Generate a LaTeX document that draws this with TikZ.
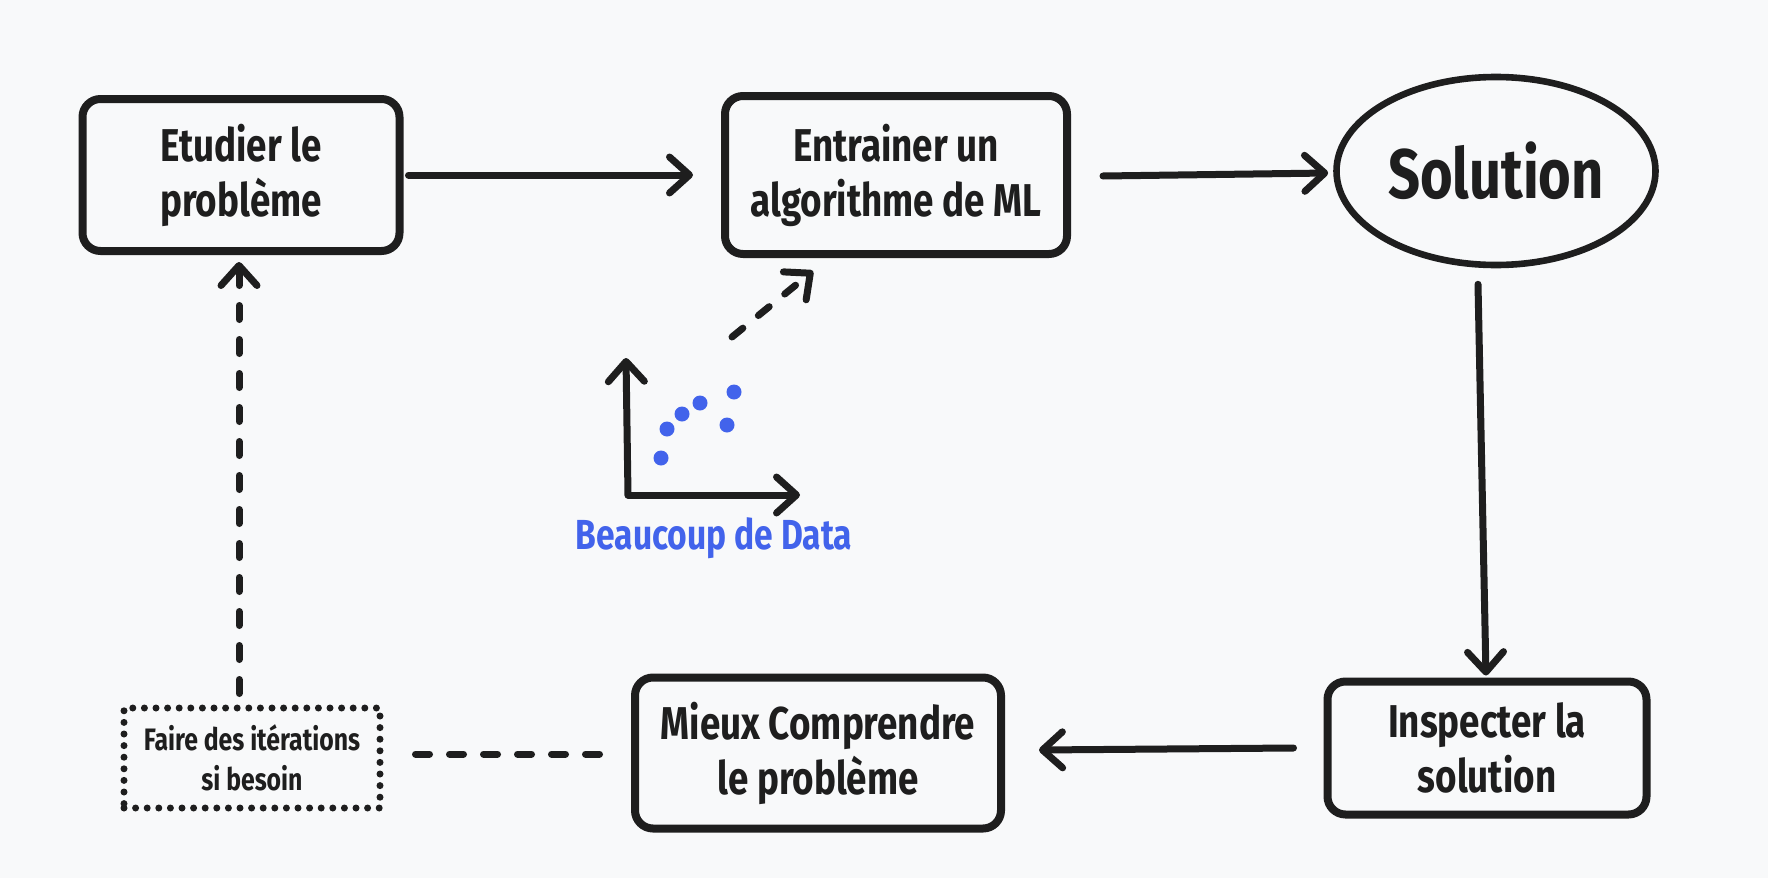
\documentclass[tikz,border=0pt]{standalone}
\usepackage{fontspec}
\setmainfont{Fira Sans}[FakeStretch=0.8]
\usetikzlibrary{arrows.meta,shapes.geometric}
\definecolor{bg}{RGB}{248,249,250}
\definecolor{ink}{RGB}{30,30,30}
\definecolor{dblue}{RGB}{66,99,235}
\tikzset{
  box/.style={draw=ink, line width=4pt, rounded corners=9pt, align=center,
    font=\fontsize{23}{27.5}\selectfont\bfseries, text=ink, inner sep=0pt},
  ovalbox/.style={ellipse, draw=ink, line width=3.3pt, align=center,
    font=\fontsize{35}{40}\selectfont\bfseries, text=ink, inner sep=0pt},
  dotbox/.style={draw=ink, line width=3.5pt, line cap=round, dash pattern=on 0pt off 5.8pt,
    align=center, font=\fontsize{15.5}{20}\selectfont\bfseries, text=ink, inner sep=0pt},
  tip/.style={-{Straight Barb[length=10pt,width=18pt,round]}},
  arr/.style={draw=ink, line width=3.5pt, line cap=round, tip},
  dashline/.style={draw=ink, line width=3.5pt, line cap=round, dash pattern=on 7pt off 10pt},
  dot/.style={circle, fill=dblue, inner sep=0pt, minimum size=7.5pt},
}
\begin{document}
\begin{tikzpicture}[x=0.5pt,y=-0.5pt]
\fill[bg] (0,0) rectangle (1768,878);
\useasboundingbox (0,0) rectangle (1768,878);

\node[box, minimum width=158.5pt, minimum height=76pt] (b1) at (241,175) {Etudier le\\problème};
\node[box, minimum width=171pt, minimum height=79pt] (b2) at (896,175) {Entrainer un\\algorithme de ML};
\node[ovalbox, minimum width=159.5pt, minimum height=94pt] (sol) at (1496,171) {Solution};
\node[box, minimum width=159.5pt, minimum height=66.5pt] (b3) at (1487,748) {Inspecter la\\solution};
\node[box, minimum width=183pt, minimum height=75.5pt] (b4) at (818,753) {Mieux Comprendre\\le problème};
\node[dotbox, minimum width=128pt, minimum height=50pt] (b5) at (252,758) {Faire des itérations\\si besoin};

\draw[arr] ([xshift=2.5pt]b1.east) -- ([xshift=-14pt]b2.west);
\draw[arr] ([xshift=16pt,yshift=-0.5pt]b2.east) -- ([xshift=-2.5pt,yshift=-1pt]sol.west);
\draw[arr] ([xshift=-9pt,yshift=-8pt]sol.south) -- ([xshift=-0.5pt,yshift=1pt]b3.north);
\draw[arr] ([xshift=-15pt]b3.west) -- ([xshift=17pt,yshift=1.5pt]b4.east);
\draw[dashline] ([xshift=16pt,yshift=2pt]b5.east) -- ([xshift=-13pt,yshift=-0.5pt]b4.west);
\draw[dashline, tip] ([xshift=-6.5pt,yshift=5.5pt]b5.north) -- ([xshift=-1pt,yshift=-3.5pt]b1.south);

% data plot
\coordinate (o) at (628,495);
\coordinate (ytop) at (626,358);
\coordinate (xend) at (800,495);
\draw[arr] (o) -- (ytop);
\draw[arr] (o) -- (xend);
\coordinate (dstart) at (732,337);
\draw[dashline, tip] (dstart) -- ([xshift=-41.5pt,yshift=-6.5pt]b2.south);

\node[dot] (p1) at (661,458) {};
\node[dot] (p2) at (667,429) {};
\node[dot] (p3) at (682,414) {};
\node[dot] (p4) at (700,403) {};
\node[dot] (p5) at (734,392) {};
\node[dot] (p6) at (727,425) {};
\node[text=dblue, font=\fontsize{21}{25}\selectfont\bfseries, inner sep=0pt] (data) at (714,538) {Beaucoup de Data};
\end{tikzpicture}
\end{document}
